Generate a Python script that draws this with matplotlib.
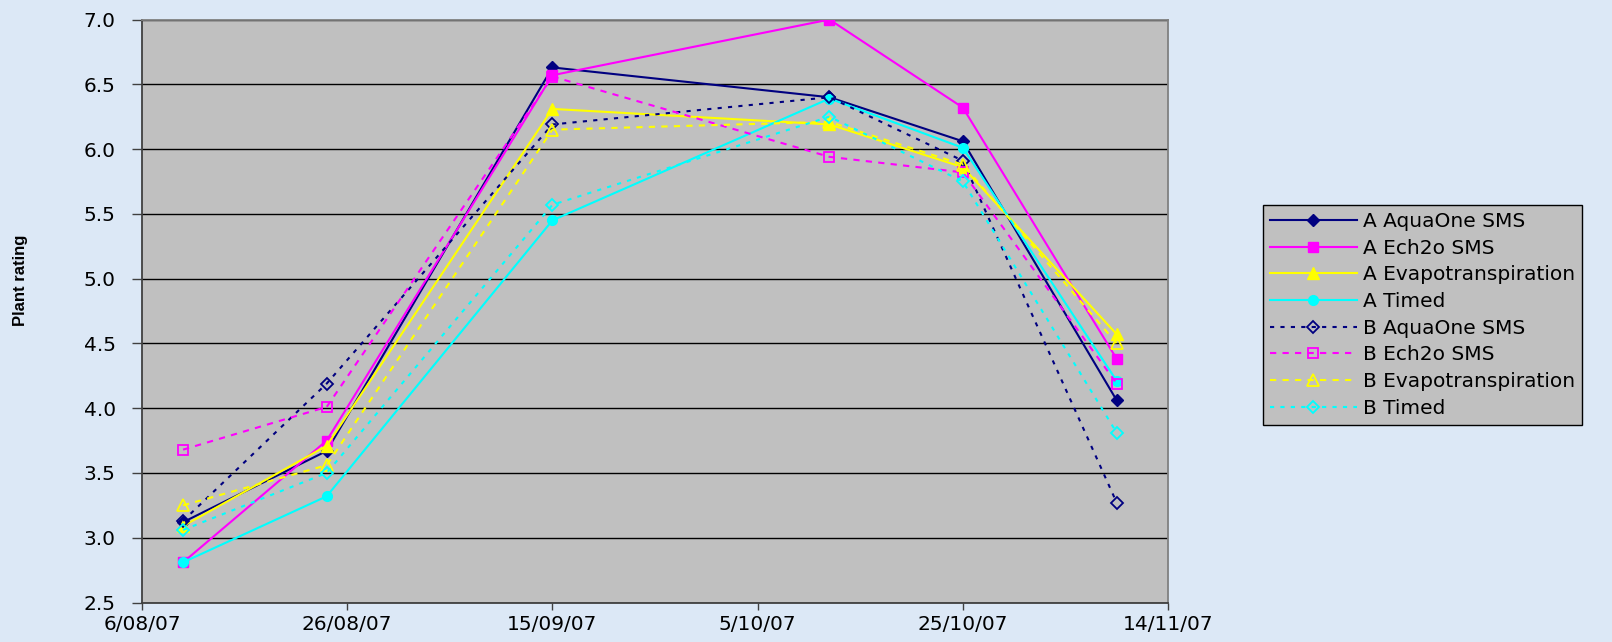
import numpy as np
import pandas as pd
import matplotlib
matplotlib.use("Agg")
import matplotlib.pyplot as plt
import matplotlib.dates as mdates

# --- dati ---
dates = pd.to_datetime(["2007-08-10", "2007-08-24", "2007-09-15",
                        "2007-10-12", "2007-10-25", "2007-11-09"])

a_aquaone = [3.12, 3.67, 6.63, 6.40, 6.06, 4.06]
a_ech2o   = [2.81, 3.75, 6.57, 7.00, 6.32, 4.38]
a_evapo   = [3.09, 3.71, 6.31, 6.19, 5.86, 4.57]
a_timed   = [2.81, 3.32, 5.45, 6.39, 6.01, 4.21]
b_aquaone = [3.13, 4.19, 6.19, 6.40, 5.91, 3.27]
b_ech2o   = [3.68, 4.01, 6.56, 5.94, 5.82, 4.19]
b_evapo   = [3.25, 3.56, 6.15, 6.21, 5.88, 4.50]
b_timed   = [3.06, 3.50, 5.57, 6.25, 5.75, 3.81]

series = [
    ("A AquaOne SMS", a_aquaone, "#000080", "-", "D", True),
    ("A Ech2o SMS", a_ech2o, "#FF00FF", "-", "s", True),
    ("A Evapotranspiration", a_evapo, "#FFFF00", "-", "^", True),
    ("A Timed", a_timed, "#00FFFF", "-", "o", True),
    ("B AquaOne SMS", b_aquaone, "#000080", (0, (2, 3)), "D", False),
    ("B Ech2o SMS", b_ech2o, "#FF00FF", (0, (3, 3)), "s", False),
    ("B Evapotranspiration", b_evapo, "#FFFF00", (0, (3, 3)), "^", False),
    ("B Timed", b_timed, "#00FFFF", (0, (2, 3)), "D", False),
]

plt.rcParams['font.family'] = ['DejaVu Sans']

fig = plt.figure(figsize=(16.12, 6.42), dpi=100, facecolor="#DCE8F6")
ax = fig.add_axes([0.0881, 0.0615, 0.7246 - 0.0881, 0.9696 - 0.0615])
ax.set_facecolor("#C0C0C0")

for name, vals, col, ls, mk, filled in series:
    ms = 7 if mk != "D" else 6
    if mk == "^":
        ms = 8
    ax.plot(dates, vals, color=col, linestyle=ls, linewidth=1.5,
            marker=mk, markersize=ms,
            markerfacecolor=col if filled else "none",
            markeredgecolor=col, markeredgewidth=1.3 if not filled else 1.0,
            label=name, zorder=3)

ax.set_ylim(2.5, 7.0)
ax.set_yticks(np.arange(2.5, 7.01, 0.5))
ax.yaxis.set_major_formatter(matplotlib.ticker.FormatStrFormatter("%.1f"))
ax.grid(axis="y", color="black", linewidth=1.0, zorder=1)

xticks = pd.date_range("2007-08-06", "2007-11-14", freq="20D")
ax.set_xlim(xticks[0], xticks[-1])
ax.set_xticks(xticks)
ax.xaxis.set_major_formatter(mdates.DateFormatter("%-d/%m/%y"))

ax.tick_params(axis="both", direction="out", width=1,
               labelsize=14.5, colors="#404040", labelcolor="black")
ax.tick_params(axis="y", length=7, pad=12)
ax.tick_params(axis="x", length=5, pad=4)

for s in ["left", "bottom"]:
    ax.spines[s].set_color("#404040")
    ax.spines[s].set_linewidth(1.3)
for s in ["top", "right"]:
    ax.spines[s].set_color("#808080")
    ax.spines[s].set_linewidth(1.3)

fig.text(0.0125, 0.564, "Plant rating", rotation=90, fontsize=12,
         fontweight="bold", ha="center", va="center",
         family=['Liberation Sans Narrow', 'Liberation Sans', 'DejaVu Sans'])

leg = ax.legend(loc="upper left", bbox_to_anchor=(1263 / 1612, 1 - 205 / 642),
                bbox_transform=fig.transFigure, fontsize=14.5,
                frameon=True, fancybox=False, handlelength=4.3,
                handletextpad=0.3, labelspacing=0.38, borderpad=0.35,
                borderaxespad=0)
leg.get_frame().set_facecolor("#C0C0C0")
leg.get_frame().set_edgecolor("black")
leg.get_frame().set_linewidth(1.0)
leg.get_frame().set_alpha(1)

fig.savefig("out.png", dpi=100, facecolor=fig.get_facecolor())
